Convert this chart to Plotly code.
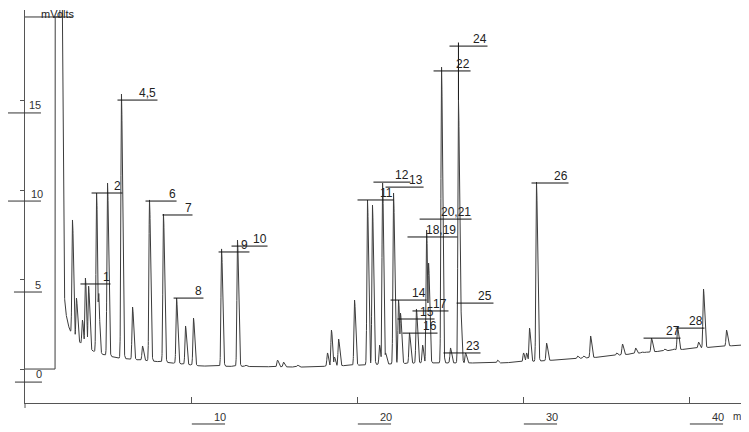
import numpy as np
import plotly.graph_objects as go

# ---------------- data (time in min, signal in mV) ----------------
# detector signal before the solvent front (recorder start, then off-scale)
run_t = [0.0, 1.81, 1.82, 2.10]
run_v = [0.0, 0.0, 19.7, 19.7]

# baseline (drift)
base_t = [2.10, 2.26, 2.32, 2.56, 2.86, 3.34, 3.95, 4.55, 5.57, 6.96, 8.34,
          10.57, 16.60, 20.21, 23.83, 28.64, 31.05, 34.67, 37.68, 40.69, 43.16]
base_v = [19.7, 6.66, 4.03, 2.57, 1.79, 1.45, 1.06, 0.84, 0.62, 0.50, 0.39,
          0.17, 0.11, 0.22, 0.34, 0.34, 0.45, 0.67, 0.95, 1.18, 1.34]

# peak apexes (retention time, apex signal)
peak_t = [2.14, 2.21, 2.86, 3.10, 3.46, 3.64, 3.83, 4.31, 4.43, 4.97,
          5.81, 6.48, 7.08, 7.50, 8.34, 9.13, 9.67, 10.15, 11.84, 12.80,
          13.28, 15.21, 15.57, 16.42, 18.22, 18.46, 18.64, 18.89, 19.85, 20.63,
          20.93, 21.36, 21.54, 21.72, 22.20, 22.50, 22.62, 23.16, 23.58, 23.95,
          24.19, 24.31, 25.09, 25.63, 26.11, 26.23, 26.54, 28.46, 30.03, 30.21,
          30.39, 30.81, 31.42, 33.28, 33.64, 34.07, 35.63, 35.99, 36.78, 37.14,
          37.38, 37.74, 38.52, 39.07, 39.31, 40.57, 40.87, 42.26]
peak_v = [25.0, 25.0, 8.34, 3.97, 2.74, 5.09, 4.64, 9.85, 4.31, 10.41,
          15.39, 3.47, 1.29, 9.46, 8.67, 3.97, 2.41, 2.85, 6.72, 7.22,
          0.22, 0.50, 0.39, 0.22, 0.90, 2.18, 0.67, 1.68, 3.86, 9.46,
          9.18, 1.34, 10.41, 0.90, 9.85, 3.86, 3.13, 2.02, 3.36, 1.34,
          7.78, 5.93, 16.90, 1.18, 15.05, 3.86, 0.90, 0.50, 0.90, 0.90,
          2.29, 10.46, 1.45, 0.73, 0.73, 1.85, 0.90, 1.40, 1.18, 0.95,
          0.95, 1.73, 1.12, 1.12, 2.35, 1.51, 4.48, 2.18]

# peak labels: text, level (mV), line start / end (min)
label_text = ["1", "2", "4,5", "6", "7", "8", "9", "10", "11", "12", "13", "14",
              "15", "16", "17", "18,19", "20,21", "22", "23", "24", "25", "26",
              "27", "28"]
label_v = [4.76, 9.85, 15.05, 9.40, 8.62, 3.97, 6.55, 6.88, 9.46, 10.46, 10.18,
           3.86, 2.80, 2.01, 3.25, 7.39, 8.39, 16.68, 0.90, 18.07, 3.69, 10.41,
           1.73, 2.29]
label_t0 = [3.34, 4.01, 5.57, 7.26, 8.28, 8.95, 11.66, 12.44, 20.03, 20.99, 21.72,
            22.02, 22.44, 22.74, 23.34, 23.04, 23.77, 24.61, 25.21, 25.57, 26.00,
            30.51, 37.26, 39.19]
label_t1 = [5.15, 5.87, 7.98, 9.13, 10.09, 10.75, 13.52, 14.61, 22.20, 23.22, 24.01,
            24.19, 24.67, 24.85, 25.51, 26.05, 26.90, 26.84, 27.44, 27.86, 28.22,
            32.74, 39.49, 40.93]

x_ticks = [10, 20, 30, 40]
y_ticks = [0, 5, 10, 15]

# ---------------- build the trace ----------------
t = np.arange(2.10, 43.16, 0.004)
base = np.interp(t, base_t, base_v)
bump = np.zeros_like(t)
for tp, vp in zip(peak_t, peak_v):
    amp = vp - np.interp(tp, base_t, base_v)
    d = t - tp
    s = np.where(d < 0, np.exp(-0.5 * (d / 0.035) ** 2), np.exp(-0.5 * (d / 0.065) ** 2))
    bump = np.maximum(bump, amp * s)
sig = base + bump

tt = np.concatenate([run_t, t])
vv = np.concatenate([run_v, sig])

fig = go.Figure()
fig.add_trace(go.Scatter(x=tt, y=vv, mode="lines",
                         line=dict(color="#3c3c3c", width=1), hoverinfo="skip"))

XMAX = 43.13
YMIN, YMAX = -1.90, 20.09
TXT = "#222222"
LBL_FONT = dict(family="Liberation Sans, Arial, sans-serif", size=12, color=TXT)
AX_FONT = dict(family="Liberation Sans, Arial, sans-serif", size=11, color="#333333")

shapes = []
annotations = []

# peak labels
for txt, v, a, b in zip(label_text, label_v, label_t0, label_t1):
    shapes.append(dict(type="line", xref="x", yref="y", x0=a, x1=b, y0=v, y1=v,
                       line=dict(color="#111111", width=1)))
    annotations.append(dict(xref="x", yref="y", x=b, y=v, text=txt, showarrow=False,
                            xanchor="right", yanchor="bottom", yshift=-1,
                            font=LBL_FONT, borderpad=0))
# label 24 connector down to its peak
i24 = label_text.index("24")
shapes.append(dict(type="line", xref="x", yref="y", x0=peak_t[44], x1=peak_t[44],
                   y0=label_v[i24] + 0.2, y1=peak_v[44], line=dict(color="#111111", width=1)))

# x tick labels (underlined, below axis)
for xv in x_ticks:
    shapes.append(dict(type="line", xref="x", yref="paper", x0=xv + 0.05, x1=xv + 2.05,
                       y0=-0.0534, y1=-0.0534, line=dict(color="#333333", width=1)))
    annotations.append(dict(xref="x", yref="paper", x=xv + 1.72, y=-0.0356, text=str(xv),
                            showarrow=False, xanchor="center", yanchor="middle", font=AX_FONT))
annotations.append(dict(xref="paper", yref="paper", x=(737 - 25) / 716, y=-0.0356, text="m",
                        showarrow=False, xanchor="center", yanchor="middle",
                        font=dict(family="Liberation Sans, Arial, sans-serif", size=10,
                                  color="#333333")))

# y tick labels (underlined)
ylab = {15: (0.014, 14.77, 14.33, -0.0251, 0.0223),
        10: (0.0168, 9.79, 9.40, -0.0237, 0.0223),
        5: (0.0182, 4.70, 4.31, -0.0154, 0.0237),
        0: (0.0196, -0.28, -0.73, -0.014, 0.0237)}
for yv in y_ticks:
    xt, yt, yl, xl0, xl1 = ylab[yv]
    shapes.append(dict(type="line", xref="paper", yref="y", x0=xl0, x1=xl1, y0=yl, y1=yl,
                       line=dict(color="#333333", width=1)))
    annotations.append(dict(xref="paper", yref="y", x=xt, y=yt, text=str(yv), showarrow=False,
                            xanchor="center", yanchor="middle", font=AX_FONT))

# unit label
annotations.append(dict(xref="paper", yref="paper", x=(58 - 25) / 716, y=0.9898, text="mVolts",
                        showarrow=False, xanchor="center", yanchor="middle",
                        font=dict(family="Liberation Sans, Arial, sans-serif", size=11, color=TXT)))
shapes.append(dict(type="line", xref="paper", yref="y", x0=0, x1=(73 - 25) / 716,
                   y0=19.70, y1=19.70, line=dict(color="#333333", width=1)))
# y axis line extension below the x axis
shapes.append(dict(type="line", xref="paper", yref="paper", x0=0, x1=0, y0=0, y1=-0.0127,
                   line=dict(color="#555555", width=1)))

# the page body adds an 8 px offset, so the figure is 8 px smaller and margins shifted
fig.update_layout(
    width=741, height=424,
    margin=dict(l=17, r=8, t=2, b=29),
    paper_bgcolor="white", plot_bgcolor="white",
    showlegend=False,
    shapes=shapes, annotations=annotations,
    xaxis=dict(range=[0, XMAX], showgrid=False, zeroline=False, showline=True,
               linecolor="#555555", linewidth=1, ticks="inside", ticklen=6,
               tickcolor="#555555", tickvals=x_ticks, showticklabels=False, fixedrange=True),
    yaxis=dict(range=[YMIN, YMAX], showgrid=False, zeroline=False, showline=True,
               linecolor="#555555", linewidth=1, ticks="outside", ticklen=4,
               tickcolor="#555555", tickvals=y_ticks, showticklabels=False, fixedrange=True),
)

fig.write_html("out.html")
